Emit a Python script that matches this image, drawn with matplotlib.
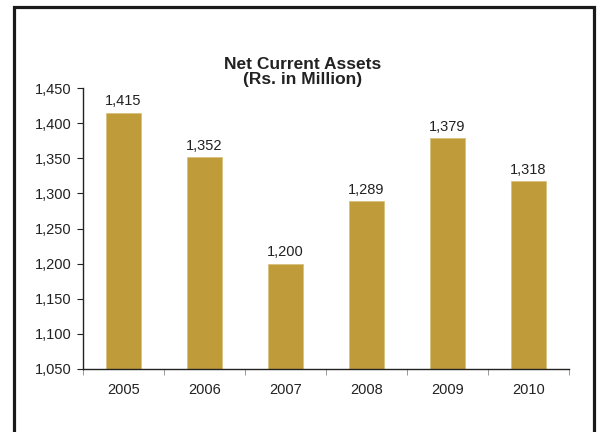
import matplotlib
matplotlib.use("Agg")
import matplotlib.pyplot as plt
from matplotlib.patches import Rectangle
from matplotlib.ticker import FuncFormatter, FixedLocator, NullFormatter

plt.rcParams['font.family'] = ['Liberation Sans', 'DejaVu Sans']

years = ["2005", "2006", "2007", "2008", "2009", "2010"]
net_current_assets = [1415, 1352, 1200, 1289, 1379, 1318]

fig = plt.figure(figsize=(5.97, 4.32), dpi=100)
fig.patch.set_facecolor("white")

# outer frame of the exhibit
fig.patches.append(Rectangle((13.5 / 597, -0.1), (593.5 - 13.5) / 597, 1.1 - 7.5 / 432,
                             transform=fig.transFigure, fill=False,
                             edgecolor="#1a1a1a", linewidth=2.3))

ax = fig.add_axes([83 / 597, 1 - 369 / 432, (569 - 83) / 597, (369 - 88) / 432])

x = list(range(len(years)))
bars = ax.bar(x, [v - 1050 for v in net_current_assets], bottom=1050, width=0.42,
              color="#BF9B3A", edgecolor="#D8C27E", linewidth=0.6)

for xi, v in zip(x, net_current_assets):
    ax.annotate(f"{v:,}", (xi, v), xytext=(0, 3), textcoords="offset points",
                ha="center", va="bottom", fontsize=10.5, color="#222222")

ax.set_ylim(1050, 1450)
ax.set_xlim(-0.5, len(years) - 0.5)
ax.set_yticks(range(1050, 1451, 50))
ax.yaxis.set_major_formatter(FuncFormatter(lambda v, p: f"{int(v):,}"))
ax.set_xticks(x)
ax.set_xticklabels(years)
ax.xaxis.set_minor_locator(FixedLocator([i - 0.5 for i in range(len(years) + 1)]))
ax.xaxis.set_minor_formatter(NullFormatter())
ax.tick_params(axis="x", which="major", length=0, pad=10, labelsize=10.5, colors="#222222")
ax.tick_params(axis="x", which="minor", length=4, width=0.6, color="#888888", direction="out")
ax.tick_params(axis="y", length=4, width=0.8, pad=4, labelsize=10.5, colors="#222222")

for s in ["top", "right"]:
    ax.spines[s].set_visible(False)
for s in ["left", "bottom"]:
    ax.spines[s].set_color("#222222")
    ax.spines[s].set_linewidth(1.0)

fig.text(303 / 597, 1 - 72 / 432, "Net Current Assets\n(Rs. in Million)",
         ha="center", va="center", fontsize=12.5, fontweight="bold",
         color="#222222", linespacing=1.0)

fig.savefig("out.png", dpi=100)
